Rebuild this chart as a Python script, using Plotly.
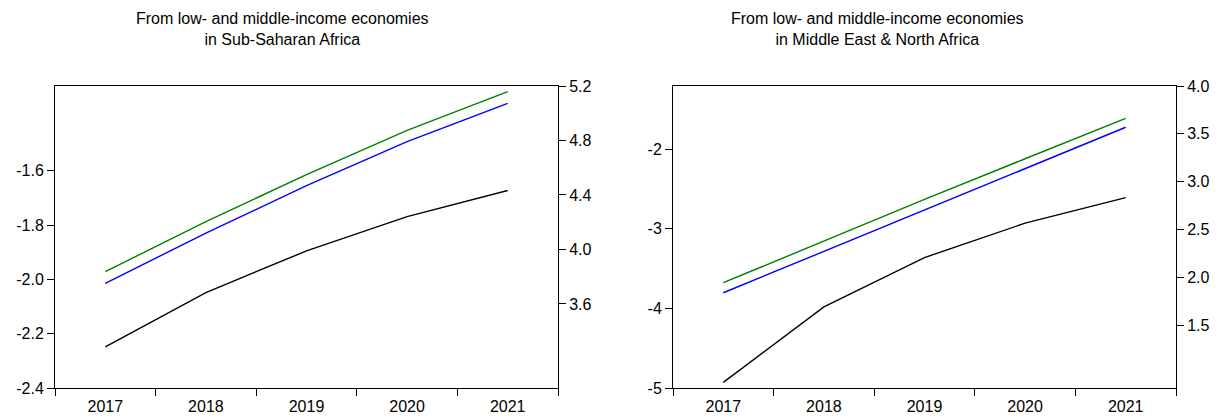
import plotly.graph_objects as go

# Years on the shared category axis
years = ["2017", "2018", "2019", "2020", "2021"]

# Sub-Saharan Africa panel
ssa_black = [-2.248, -2.048, -1.895, -1.769, -1.673]   # left scale
ssa_blue = [3.752, 4.120, 4.468, 4.791, 5.073]         # right scale
ssa_green = [3.837, 4.205, 4.549, 4.874, 5.159]        # right scale

# Middle East & North Africa panel
mena_black = [-4.925, -3.980, -3.361, -2.930, -2.609]  # left scale
mena_blue = [1.840, 2.272, 2.705, 3.138, 3.569]        # right scale
mena_green = [1.945, 2.380, 2.815, 3.240, 3.661]       # right scale

# Tick values and labels
ssa_left_ticks = [-2.4, -2.2, -2.0, -1.8, -1.6]
ssa_left_labels = ["-2.4", "-2.2", "-2.0", "-1.8", "-1.6"]
ssa_right_ticks = [3.6, 4.0, 4.4, 4.8, 5.2]
ssa_right_labels = ["3.6", "4.0", "4.4", "4.8", "5.2"]
mena_left_ticks = [-5, -4, -3, -2]
mena_left_labels = ["-5", "-4", "-3", "-2"]
mena_right_ticks = [1.5, 2.0, 2.5, 3.0, 3.5, 4.0]
mena_right_labels = ["1.5", "2.0", "2.5", "3.0", "3.5", "4.0"]

titles = [
    "From low- and middle-income economies<br>in Sub-Saharan Africa",
    "From low- and middle-income economies<br>in Middle East & North Africa",
]

W, H = 1226, 420
FONT = "Liberation Sans, Arial, sans-serif"
LW = 1.4

fig = go.Figure()

# Left panel traces
fig.add_trace(go.Scatter(x=years, y=ssa_black, mode="lines",
                         line=dict(color="black", width=LW), xaxis="x", yaxis="y"))
fig.add_trace(go.Scatter(x=years, y=ssa_blue, mode="lines",
                         line=dict(color="#0000ff", width=LW), xaxis="x", yaxis="y2"))
fig.add_trace(go.Scatter(x=years, y=ssa_green, mode="lines",
                         line=dict(color="#008000", width=LW), xaxis="x", yaxis="y2"))

# Right panel traces
fig.add_trace(go.Scatter(x=years, y=mena_black, mode="lines",
                         line=dict(color="black", width=LW), xaxis="x2", yaxis="y3"))
fig.add_trace(go.Scatter(x=years, y=mena_blue, mode="lines",
                         line=dict(color="#0000ff", width=LW), xaxis="x2", yaxis="y4"))
fig.add_trace(go.Scatter(x=years, y=mena_green, mode="lines",
                         line=dict(color="#008000", width=LW), xaxis="x2", yaxis="y4"))

# Plot-box geometry in pixels
left_box = (55, 558)
right_box = (673, 1176)
top_px, bottom_px = 86, 388.3
ydom = [(H - bottom_px) / H, (H - top_px) / H]

tick_font = dict(family=FONT, size=16, color="black")

common_x = dict(type="category", range=[-0.5, 4.5], tickson="boundaries",
                ticks="outside", ticklen=7, tickwidth=1, tickcolor="black",
                showline=True, linecolor="black", linewidth=1, mirror=True,
                showgrid=False, zeroline=False, tickfont=tick_font,
                ticklabelstandoff=3, automargin=False, fixedrange=True)
common_y = dict(ticks="outside", ticklen=7, tickwidth=1, tickcolor="black",
                showline=True, linecolor="black", linewidth=1,
                showgrid=False, zeroline=False, tickfont=tick_font,
                automargin=False, fixedrange=True)

fig.update_layout(
    template="none",
    width=W, height=H,
    margin=dict(l=0, r=0, t=0, b=0, pad=0, autoexpand=False),
    paper_bgcolor="white", plot_bgcolor="white",
    showlegend=False,
    font=dict(family=FONT, color="black"),
    xaxis=dict(domain=[left_box[0] / W, left_box[1] / W], anchor="y", **common_x),
    xaxis2=dict(domain=[right_box[0] / W, right_box[1] / W], anchor="y3", **common_x),
    yaxis=dict(domain=ydom, anchor="x", side="left", range=[-2.4, -1.289],
               tickvals=ssa_left_ticks, ticktext=ssa_left_labels, **common_y),
    yaxis2=dict(overlaying="y", anchor="x", side="right", range=[2.981, 5.2],
                tickvals=ssa_right_ticks, ticktext=ssa_right_labels, **common_y),
    yaxis3=dict(domain=ydom, anchor="x2", side="left", range=[-5.0, -1.21],
                tickvals=mena_left_ticks, ticktext=mena_left_labels, **common_y),
    yaxis4=dict(overlaying="y3", anchor="x2", side="right", range=[0.842, 4.0],
                tickvals=mena_right_ticks, ticktext=mena_right_labels, **common_y),
)

# Panel titles
for cx, text in zip([282, 877], titles):
    fig.add_annotation(x=cx / W, y=1 - 8 / H, xref="paper", yref="paper",
                       xanchor="center", yanchor="top", showarrow=False,
                       text=text, align="center",
                       font=dict(family=FONT, size=16, color="black"))

fig.write_html(
    "out.html",
    post_script="document.body.style.margin='0';document.body.style.padding='0';"
                "document.documentElement.style.overflow='hidden';",
)
